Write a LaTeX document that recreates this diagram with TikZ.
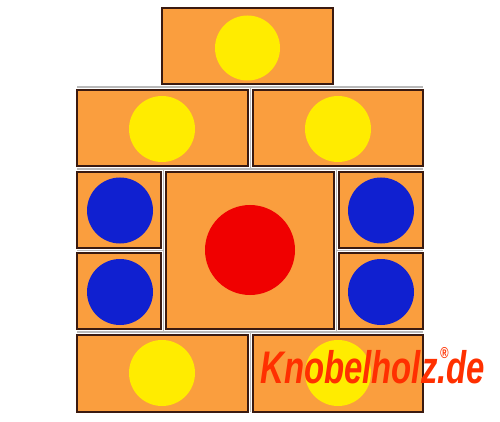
\documentclass[tikz,border=0pt]{standalone}
\usepackage{fontspec}
\newfontfamily\logofont{Liberation Sans}
\definecolor{blockorange}{RGB}{250,158,62}
\definecolor{blockedge}{RGB}{58,26,16}
\definecolor{gapgray}{RGB}{185,185,185}
\definecolor{ballyellow}{RGB}{255,236,0}
\definecolor{ballblue}{RGB}{16,32,208}
\definecolor{ballred}{RGB}{240,0,0}
\definecolor{logored}{RGB}{255,48,0}
\begin{document}
\begin{tikzpicture}[x=0.02cm,y=-0.02cm]
        \tikzstyle{block}=[draw=blockedge,fill=blockorange,line width=1.1pt]
        \tikzstyle{gap}=[draw=gapgray,line width=1pt]
        \useasboundingbox (0,0) rectangle (500,422);
        % gaps between the blocks
        \draw[gap] (77,87) -- (423,87);
        \draw[gap] (77,169) -- (423,169);
        \draw[gap] (77,250.5) -- (163.5,250.5);
        \draw[gap] (336.5,250.5) -- (423,250.5);
        \draw[gap] (77,332) -- (423,332);
        \draw[gap] (250.5,87) -- (250.5,169);
        \draw[gap] (250.5,332) -- (250.5,412);
        \draw[gap] (163.5,169) -- (163.5,332);
        \draw[gap] (336.5,169) -- (336.5,332);
        % blocks
        \draw[block] (162,8) rectangle (333,84);
        \draw[block] (77,90) rectangle (248,166);
        \draw[block] (253,90) rectangle (423,166);
        \draw[block] (77,172) rectangle (161,248);
        \draw[block] (77,253) rectangle (161,329);
        \draw[block] (166,172) rectangle (334,329);
        \draw[block] (339,172) rectangle (423,248);
        \draw[block] (339,253) rectangle (423,329);
        \draw[block] (77,335) rectangle (248,412);
        \draw[block] (253,335) rectangle (423,412);
        % balls
        \fill[ballyellow] (247.5,48) circle (32.5);
        \fill[ballyellow] (162,129) circle (33);
        \fill[ballyellow] (338,129) circle (33);
        \fill[ballblue] (120,210.5) circle (33);
        \fill[ballblue] (120,292) circle (33);
        \fill[ballblue] (381,210.5) circle (33);
        \fill[ballblue] (381,292) circle (33);
        \fill[ballred] (250,250) circle (45);
        \fill[ballyellow] (162,373) circle (33);
        \fill[ballyellow] (338,373) circle (33);
        % logo
        \node[anchor=base west,inner sep=0pt,text=logored,xscale=0.72,
              font=\logofont\bfseries\itshape\fontsize{26}{26}\selectfont] (logo)
              at (260,383) {Knobelholz\rlap{\kern2pt\raisebox{14pt}{\fontsize{9}{9}\selectfont ®}}.de};
\end{tikzpicture}
\end{document}
